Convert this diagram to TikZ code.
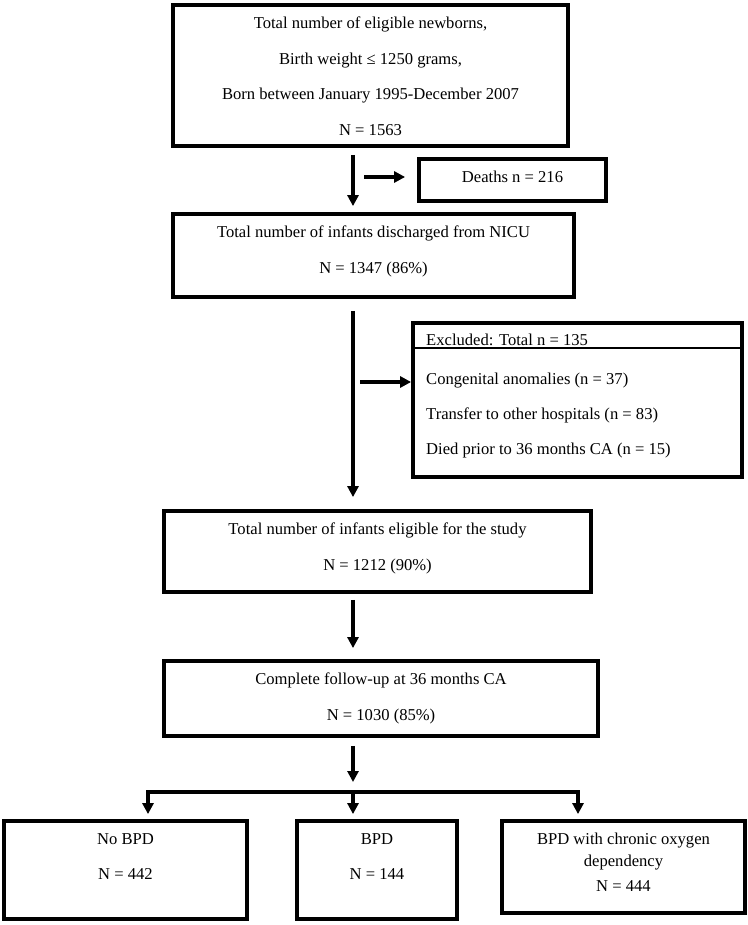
\documentclass[tikz,border=0pt]{standalone}
\usepackage{fontspec}
\setmainfont{Liberation Serif}
\usetikzlibrary{arrows.meta, fit, positioning}
\tikzset{
	stagebox/.style={draw, line width=3.8pt, inner sep=0pt},
	stagetext/.style={align=center, inner sep=0pt, font=\fontsize{16.6}{35.5}\selectfont},
	listtext/.style={align=left, inner sep=0pt, font=\fontsize{16.6}{35}\selectfont},
	arr/.style={line width=3.2pt, -{Triangle[length=11pt, width=11pt]}},
}
\newcommand{\stage}[6]{\node[stagebox, fit={(#2,#3) (#4,#5)}] (#1) {};
	\node[stagetext, anchor=north] (#1-text) at ([yshift=-14pt]#1.north) {#6};}

\begin{document}
\begin{tikzpicture}[x=1pt, y=-1pt]
	\useasboundingbox (0,0) rectangle (747,925);

	\stage{born}{173}{5}{568}{146}{Total number of eligible newborns,\\Birth weight ≤ 1250 grams,\\Born between January 1995-December 2007\\N = 1563}
	\stage{deaths}{419}{159}{606}{201}{Deaths n = 216}
	\stage{nicu}{173}{214}{574}{297}{Total number of infants discharged from NICU\\N = 1347 (86\%)}
	\stage{elig}{164}{511}{591}{592}{Total number of infants eligible for the study\\N = 1212 (90\%)}
	\stage{follow}{164}{661}{598}{736}{Complete follow-up at 36 months CA\\N = 1030 (85\%)}
	\stage{nobpd}{4}{821}{247}{919}{No BPD\\N = 442}
	\stage{bpd}{297}{821}{457}{919}{BPD\\N = 144}
	\stage{oxy}{502}{821}{745}{913}{BPD with chronic oxygen\\[-13.5pt]dependency\\[-10.5pt]N = 444}

	\node[stagebox, fit={(413,323) (742,477)}] (excl) {};
	\draw[line width=1.4pt] (excl.west |- 0,348) -- (excl.east |- 0,348);
	\node[listtext, anchor=base west] (excl-head) at (426,345) {Excluded: Total n = 135};
	\node[listtext, anchor=base west] (excl-list) at (426,454) {Congenital anomalies (n = 37)\\Transfer to other hospitals (n = 83)\\Died prior to 36 months CA (n = 15)};

	\coordinate (spine) at (353,0);
	\coordinate (fork) at (353,792);
	\coordinate (fork-l) at (148,792);
	\coordinate (fork-r) at (578,792);

	\draw[arr] ([yshift=-7pt]born.south -| spine) -- ([yshift=6pt]nicu.north -| spine);
	\draw[arr] ([xshift=11pt, yshift=3pt]spine |- deaths.west) -- ([xshift=-12pt, yshift=3pt]deaths.west);
	\draw[arr] ([yshift=-12pt]nicu.south -| spine) -- ([yshift=12pt]elig.north -| spine);
	\draw[arr] ([xshift=7pt, yshift=18pt]spine |- excl.west) -- ([yshift=18pt]excl.west);
	\draw[arr] ([yshift=-6pt]elig.south -| spine) -- ([yshift=11pt]follow.north -| spine);
	\draw[arr] ([yshift=-8pt]follow.south -| spine) -- ([yshift=10pt]fork);
	\draw[arr] (fork) -- (fork-l) -- ([yshift=5pt]nobpd.north -| fork-l);
	\draw[arr] (fork) -- ([yshift=5pt]bpd.north -| fork);
	\draw[arr] (fork) -- (fork-r) -- ([yshift=5pt]oxy.north -| fork-r);
\end{tikzpicture}
\end{document}
